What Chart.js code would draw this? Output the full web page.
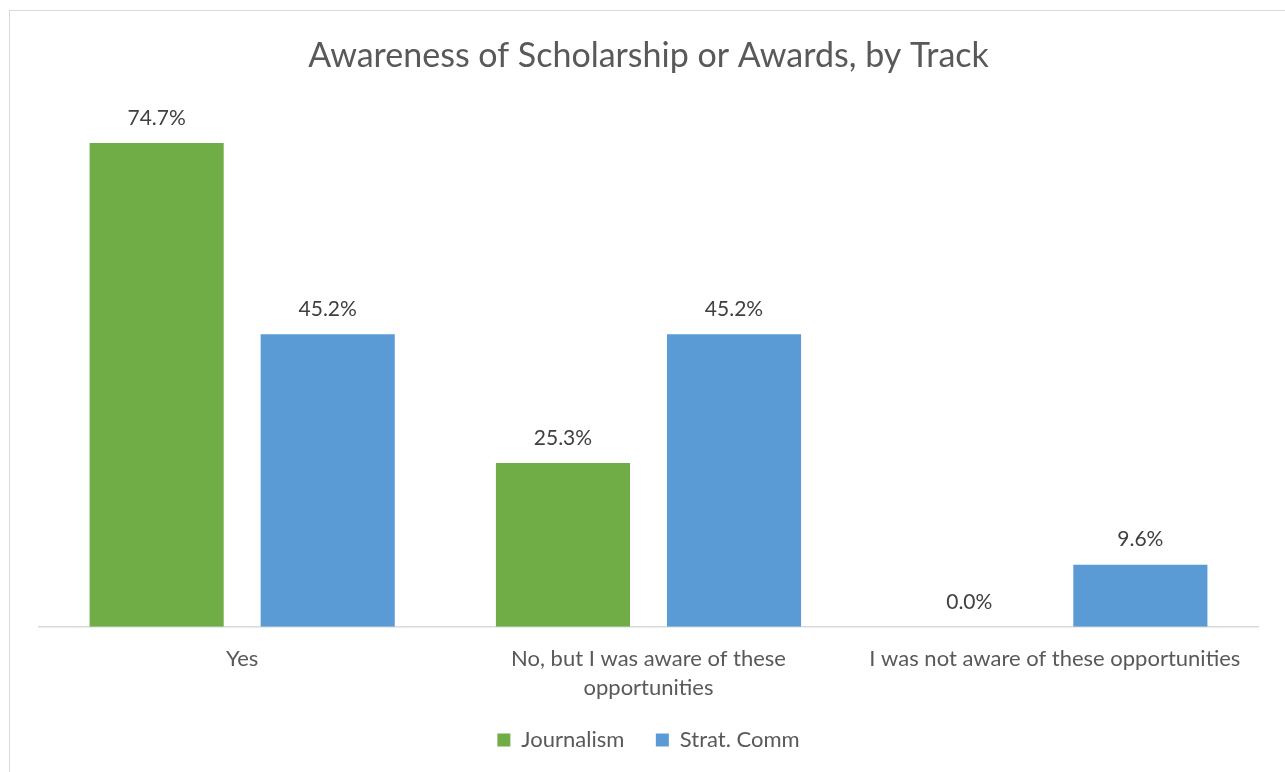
<!DOCTYPE html>
<html>
<head>
<meta charset="utf-8">
<script src="https://cdn.jsdelivr.net/npm/chart.js@4/dist/chart.umd.min.js"></script>
<style>
  html, body { margin: 0; padding: 0; background: #fff; }
  #wrap { position: relative; width: 1285px; height: 772px; }
  #frame { position: absolute; left: 9px; top: 10px; width: 1300px; height: 800px;
           border-left: 1px solid #d9d9d9; border-top: 1px solid #d9d9d9; }
  canvas { position: absolute; left: 0; top: 0; }
</style>
</head>
<body>
<div id="wrap">
  <div id="frame"></div>
  <canvas id="canvas" width="1285" height="772"></canvas>
</div>
<script>
// categories (reponses) et series
let categories = ["Yes", ["No, but I was aware of these", "opportunities"], "I was not aware of these opportunities"];
let journalism = [74.7, 25.3, 0.0];
let stratComm = [45.2, 45.2, 9.6];

let txtColor = "#595959";
let fontFam = "Lato, 'Open Sans', sans-serif";

// etiquettes de valeur au dessus des barres
const valueLabels = {
  id: 'valueLabels',
  afterDatasetsDraw(chart) {
    const c = chart.ctx;
    c.save();
    c.fillStyle = "#404040";
    c.font = "21px " + fontFam;
    c.textAlign = "center";
    c.textBaseline = "middle";
    chart.data.datasets.forEach((ds, i) => {
      chart.getDatasetMeta(i).data.forEach((bar, j) => {
        c.fillText(ds.data[j].toFixed(1) + "%", bar.x, bar.y - 25);
      });
    });
    c.restore();
  }
};

var ctx = document.getElementById('canvas').getContext('2d');
var chart = new Chart(ctx, {
  type: 'bar',
  data: {
    labels: categories,
    datasets: [{
      label: 'Journalism',
      backgroundColor: '#70ad47',
      data: journalism
    }, {
      label: 'Strat. Comm',
      backgroundColor: '#5b9bd5',
      data: stratComm
    }]
  },
  options: {
    responsive: false,
    animation: false,
    layout: { padding: { left: 39, right: 27, top: 0, bottom: 11 } },
    datasets: { bar: { categoryPercentage: 0.842, barPercentage: 0.784 } },
    plugins: {
      title: {
        display: true,
        text: 'Awareness of Scholarship or Awards, by Track',
        color: txtColor,
        font: { family: fontFam, size: 34, weight: 'normal' },
        padding: { top: 36, bottom: 32 }
      },
      legend: {
        position: 'bottom',
        labels: {
          color: txtColor,
          font: { family: fontFam, size: 22 },
          boxWidth: 13, boxHeight: 13,
          padding: 9,
          // espace en plus entre les deux entrees de la legende
          generateLabels(chart) {
            const items = Chart.defaults.plugins.legend.labels.generateLabels(chart);
            items[0].text = items[0].text + "    ";
            return items;
          }
        }
      },
      tooltip: { enabled: false }
    },
    scales: {
      x: {
        grid: { display: false, drawTicks: false },
        border: { display: true, color: '#d9d9d9', width: 1.5 },
        ticks: { color: txtColor, font: { family: fontFam, size: 22, lineHeight: 1.3 }, maxRotation: 0, padding: 18 }
      },
      y: {
        display: false,
        min: 0,
        max: 80
      }
    }
  },
  plugins: [valueLabels]
});
</script>
</body>
</html>
